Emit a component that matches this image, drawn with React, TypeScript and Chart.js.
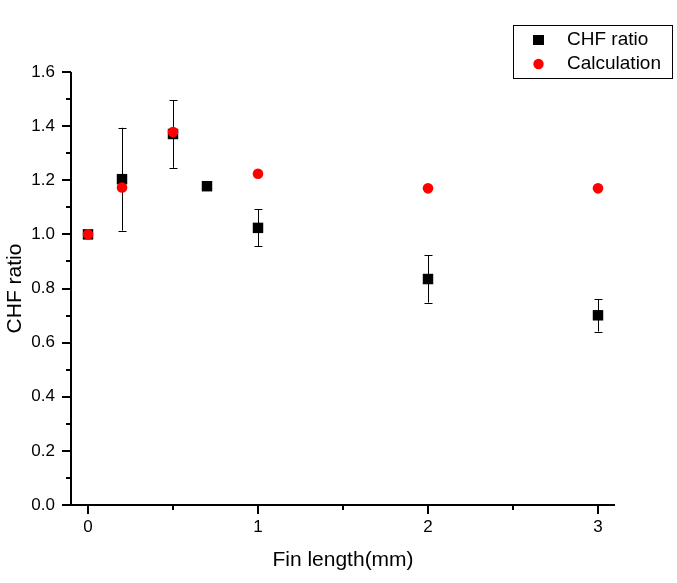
import React, { useEffect, useRef } from "react";
import { Chart, registerables } from "chart.js";

Chart.register(...registerables);

// ---- data ----
const finLength = [0, 0.2, 0.5, 0.7, 1, 2, 3];
const chfRatio = [1.0, 1.204, 1.371, 1.178, 1.024, 0.835, 0.701];
const chfError = [0, 0.19, 0.125, 0, 0.068, 0.087, 0.06];
const calcLength = [0, 0.2, 0.5, 1, 2, 3];
const calcRatio = [1.0, 1.173, 1.378, 1.224, 1.17, 1.17];

const xTicks = [0, 1, 2, 3];
const xMinorTicks = [0.5, 1.5, 2.5];
const yTicks = [0, 0.2, 0.4, 0.6, 0.8, 1.0, 1.2, 1.4, 1.6];
const yMinorTicks = [0.1, 0.3, 0.5, 0.7, 0.9, 1.1, 1.3, 1.5];

const xTitle = "Fin length(mm)";
const yTitle = "CHF ratio";
const seriesNames = ["CHF ratio", "Calculation"];

const FONT = "'Liberation Sans', Arial, sans-serif";

const overlayPlugin = {
  id: "originStyle",
  beforeDatasetsDraw(chart: any) {
    const ctx = chart.ctx;
    const xs = chart.scales.x;
    const ys = chart.scales.y;
    ctx.save();
    ctx.strokeStyle = "#000";
    ctx.lineWidth = 1;
    finLength.forEach((xv, i) => {
      const e = chfError[i];
      if (!e) return;
      const px = Math.round(xs.getPixelForValue(xv)) + 0.5;
      const top = ys.getPixelForValue(chfRatio[i] + e);
      const bot = ys.getPixelForValue(chfRatio[i] - e);
      ctx.beginPath();
      ctx.moveTo(px, top);
      ctx.lineTo(px, bot);
      ctx.moveTo(px - 4, Math.round(top) + 0.5);
      ctx.lineTo(px + 4, Math.round(top) + 0.5);
      ctx.moveTo(px - 4, Math.round(bot) + 0.5);
      ctx.lineTo(px + 4, Math.round(bot) + 0.5);
      ctx.stroke();
    });
    ctx.restore();
  },
  afterDraw(chart: any) {
    const ctx = chart.ctx;
    const xs = chart.scales.x;
    const ys = chart.scales.y;
    const a = chart.chartArea;
    ctx.save();
    ctx.strokeStyle = "#000";
    ctx.lineWidth = 2;
    // axis lines
    ctx.beginPath();
    ctx.moveTo(a.left, a.top);
    ctx.lineTo(a.left, a.bottom + 1);
    ctx.moveTo(a.left - 1, a.bottom);
    ctx.lineTo(a.right, a.bottom);
    ctx.stroke();
    // y ticks
    ctx.beginPath();
    yTicks.forEach((v) => {
      const py = Math.round(ys.getPixelForValue(v));
      ctx.moveTo(a.left, py);
      ctx.lineTo(a.left - 9, py);
    });
    yMinorTicks.forEach((v) => {
      const py = Math.round(ys.getPixelForValue(v));
      ctx.moveTo(a.left, py);
      ctx.lineTo(a.left - 5, py);
    });
    // x ticks
    xTicks.forEach((v) => {
      const px = Math.round(xs.getPixelForValue(v));
      ctx.moveTo(px, a.bottom);
      ctx.lineTo(px, a.bottom + 9);
    });
    xMinorTicks.forEach((v) => {
      const px = Math.round(xs.getPixelForValue(v));
      ctx.moveTo(px, a.bottom);
      ctx.lineTo(px, a.bottom + 5);
    });
    ctx.stroke();

    // axis titles
    ctx.fillStyle = "#000";
    ctx.font = `21px ${FONT}`;
    ctx.textAlign = "center";
    ctx.textBaseline = "middle";
    ctx.fillText(xTitle, (a.left + a.right) / 2, 560);
    ctx.save();
    ctx.translate(15, (a.top + a.bottom) / 2);
    ctx.rotate(-Math.PI / 2);
    ctx.fillText(yTitle, 0, 0);
    ctx.restore();

    // legend
    ctx.lineWidth = 1;
    ctx.strokeRect(513.5, 25.5, 159, 53);
    ctx.fillStyle = "#000";
    ctx.fillRect(533, 35, 11, 10);
    ctx.fillStyle = "#ff0000";
    ctx.beginPath();
    ctx.arc(538.5, 64, 5.2, 0, Math.PI * 2);
    ctx.fill();
    ctx.fillStyle = "#000";
    ctx.font = `19px ${FONT}`;
    ctx.textAlign = "left";
    ctx.textBaseline = "middle";
    ctx.fillText(seriesNames[0], 567, 40);
    ctx.fillText(seriesNames[1], 567, 64);
    ctx.restore();
  },
};

export default function App() {
  const ref = useRef<HTMLCanvasElement>(null);
  useEffect(() => {
    if (!ref.current) return;
    const chart = new Chart(ref.current, {
      type: "scatter",
      data: {
        datasets: [
          {
            label: seriesNames[0],
            data: finLength.map((x, i) => ({ x, y: chfRatio[i] })),
            pointStyle: "rect",
            pointRadius: 7.4,
            pointHoverRadius: 7.4,
            backgroundColor: "#000",
            borderColor: "#000",
            borderWidth: 0,
            order: 2,
          },
          {
            label: seriesNames[1],
            data: calcLength.map((x, i) => ({ x, y: calcRatio[i] })),
            pointStyle: "circle",
            pointRadius: 5.3,
            pointHoverRadius: 5.3,
            backgroundColor: "#ff0000",
            borderColor: "#ff0000",
            borderWidth: 0,
            order: 1,
          },
        ],
      },
      options: {
        responsive: false,
        animation: false,
        events: [],
        layout: { padding: { top: 72, right: 62, left: 0, bottom: 0 } },
        plugins: { legend: { display: false }, tooltip: { enabled: false } },
        scales: {
          x: {
            type: "linear",
            min: -0.1,
            max: 3.1,
            grid: { display: false, drawTicks: false },
            border: { display: false },
            afterFit: (s: any) => {
              s.height = 78;
            },
            afterBuildTicks: (s: any) => {
              s.ticks = xTicks.map((v) => ({ value: v }));
            },
            ticks: {
              padding: 12,
              color: "#000",
              font: { family: FONT, size: 17 },
              maxRotation: 0,
              callback: (v: any) => String(v),
            },
          },
          y: {
            type: "linear",
            min: 0,
            max: 1.6,
            grid: { display: false, drawTicks: false },
            border: { display: false },
            afterFit: (s: any) => {
              s.width = 71;
            },
            afterBuildTicks: (s: any) => {
              s.ticks = yTicks.map((v) => ({ value: v }));
            },
            ticks: {
              padding: 16,
              color: "#000",
              font: { family: FONT, size: 17 },
              callback: (v: any) => Number(v).toFixed(1),
            },
          },
        },
      },
      plugins: [overlayPlugin],
    } as any);
    return () => chart.destroy();
  }, []);
  return (
    <div style={{ position: "absolute", left: 0, top: 0, width: 677, height: 583, background: "#fff" }}>
      <canvas ref={ref} width={677} height={583} />
    </div>
  );
}
